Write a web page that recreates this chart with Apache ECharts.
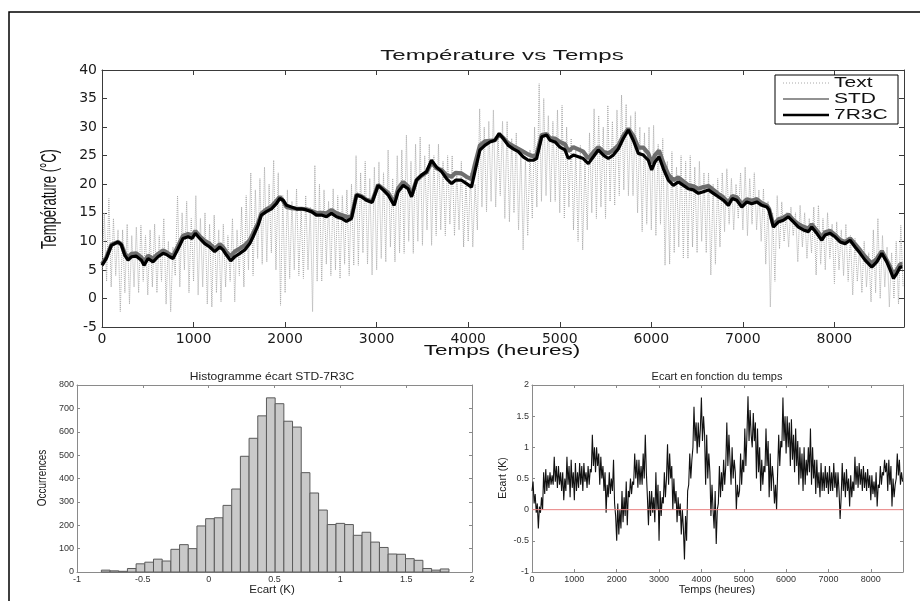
<!DOCTYPE html>
<html><head><meta charset="utf-8">
<script src="https://cdn.jsdelivr.net/npm/echarts/dist/echarts.min.js"></script>
<style>html,body{margin:0;padding:0;background:#fff}#c{width:920px;height:601px}</style>
</head><body><div id="c"></div><script>
// ---------- DATA ----------
// Outdoor temperature "Text", one value every 25 h starting at 0 h
const textStep = 25;
const textValues = [
5,15,3,17.5,2,14,4,12, -2.3,12,1,13,-1,11,2,12.5, 1,12.8,3,11,0.6,12,2,13, 1,11,3,14,-1,10,-2.3,9,
4,18,2,15,5,17,1,14, 3,18,0.6,14,2,15,-1,13, -1.5,14.6,1,12,-0.6,13,2,11, 3,14,-0.6,12,4,16,2,18,
5,22,4,19,7,21,6,23, 6.4,20,8,24.2,5,22,-1.2,18, 1,19,3.5,17,5,19.2,4,16, 3.5,18,5,16,-2.3,23.3,3,20,
3,19,6,17,4,19.2,5,18, 3.5,18,6,19,4,20,5.8,25, 5.8,22,8,24,6,21,4.1,23, 5,23.9,7,22,6.4,26,9,21,
6.4,25,8,26,7.9,28.6,10,24, 7.9,27,10,28.3,9.3,25,12,27, 9.3,25,11,27,12,24,11,25, 13,25,11,22,12,24,9,21,
10,22,9,20,12,33.2,16,30, 15.2,31,17,33,16,29,18,31, 14,31,13.4,28,15,29,12,26, 8.5,24,11,26,14,30,16,37.6,
17,35,18,32,16.9,31,17,33, 15,33.8,14,30,16,28,12,26, 10,26.8,8.5,24,12,29,15,33.2, 14,32,16,30,14,33.8,17,31,
16.3,33,18,35.6,19,34,18,32, 18,32.7,15,30,11.7,29,13,30, 12,30.3,11,27,13,28,5.8,24, 6,25.7,8,23,9,25,7,24,
7,25,9,23,8,24,10,22, 8,22,4.1,20,6,21,9,22, 11.7,22.7,13,21,12,20,14,22, 12,23,11,21,13,22,12,19,
10,19.2,6,17,-1.5,15,3,18, 8.7,16.9,10,15,9,16,11,15, 6.4,16.3,9,15,7,14,8,16, 4.1,16.3,6,14,5,15,7,13,
2.6,13.4,5,12,4,13,3,11, 0.6,10.5,3,9,1,10,2,8, -0.6,12,1,14,0,11,2,9, -1.5,8,0,10,-1,12.8,2
];
// Indoor temperature models (hours, °C)
const tLine = [0,47,102,175,211,248,284,321,375,430,459,503,557,612,667,703,740,776,831,885,940,984,1020,1067,1122,1177,1231,1286,1322,1359,1406,1450,1505,1559,1614,1650,1705,1741,1796,1851,1905,1942,1978,2015,2069,2124,2178,2233,2288,2342,2397,2452,2506,2561,2616,2670,2725,2780,2834,2889,2950,3016,3071,3126,3191,3235,3290,3344,3381,3435,3490,3545,3599,3654,3709,3763,3818,3862,3927,3982,4036,4073,4128,4182,4237,4292,4339,4383,4437,4492,4547,4601,4656,4711,4747,4802,4857,4893,4948,5002,5057,5093,5148,5203,5257,5312,5367,5421,5476,5530,5585,5640,5694,5749,5803,5858,5913,5967,6004,6040,6084,6132,6186,6240,6295,6350,6404,6459,6514,6568,6623,6678,6732,6787,6842,6885,6933,6988,7043,7097,7152,7207,7262,7286,7333,7388,7443,7497,7552,7607,7661,7716,7752,7807,7862,7898,7953,8007,8062,8117,8171,8226,8281,8335,8408,8463,8518,8572,8609,8645,8682,8718,8743];
const v7R3C = [5.8,7.0,9.3,9.9,9.4,7.6,6.7,7.3,7.4,6.7,5.8,7.0,6.4,7.3,7.9,7.7,7.3,7.0,8.7,10.5,10.8,10.5,11.4,10.5,9.6,9.0,8.2,9.0,8.5,7.6,6.6,7.3,7.9,8.5,9.6,10.8,12.8,14.6,15.2,15.7,16.6,17.5,17.2,16.3,16.0,15.7,15.7,15.5,15.2,14.6,14.6,14.3,14.9,14.3,14.0,13.5,14.0,18.1,17.8,17.2,16.8,19.8,19.0,18.1,16.3,18.7,19.8,19.2,17.8,20.7,21.6,22.2,24.2,23.0,22.2,21.0,20.1,20.7,20.7,20.1,19.5,22.2,26.0,26.8,27.4,27.7,28.9,28.0,26.8,26.2,25.7,24.8,24.2,24.2,24.5,28.3,28.6,27.7,27.4,26.5,26.0,24.5,25.1,24.8,24.5,23.6,24.8,26.0,25.1,24.5,25.1,26.2,28.0,29.5,27.7,25.4,25.1,24.2,22.5,23.9,24.8,22.7,20.7,19.8,20.4,19.8,19.2,19.0,18.4,18.7,19.0,18.4,17.8,17.2,16.3,17.5,17.2,16.0,16.9,16.6,16.9,16.3,16.0,15.5,12.5,13.4,13.7,14.3,13.4,12.5,12.0,11.7,12.5,11.4,10.2,11.1,11.4,10.8,9.9,9.6,10.2,9.0,7.9,6.7,5.5,6.4,7.9,6.4,5.0,3.5,4.4,5.5,5.5];
const vSTD = [6.0,7.2,9.4,9.9,9.5,7.9,7.1,7.8,7.9,7.2,6.3,7.5,7.0,7.8,8.4,8.1,7.7,7.4,9.2,11.0,11.3,11.0,11.8,10.9,10.1,9.55,8.7,9.5,9.0,8.1,7.4,8.2,8.75,9.3,10.2,11.4,13.2,14.9,15.6,16.1,17.1,17.8,17.1,16.0,15.8,15.7,15.7,15.6,15.3,14.95,15.0,14.9,15.5,14.9,14.6,14.3,14.3,18.2,17.9,17.3,17.0,19.9,19.2,18.5,16.7,19.3,20.4,19.6,18.1,20.7,21.5,22.1,23.8,22.8,22.5,21.6,21.3,22.0,21.9,21.3,20.9,23.5,26.8,27.5,27.6,27.7,28.7,28.1,27.2,26.7,26.2,25.7,25.2,24.9,25.1,28.6,28.8,28.1,28.0,27.4,27.0,25.8,26.5,26.1,25.7,24.5,25.6,26.5,25.7,25.4,26.0,26.8,28.5,29.7,28.5,26.4,26.4,25.4,23.7,25.1,25.9,23.7,21.7,20.7,21.2,20.5,19.85,19.65,19.2,19.5,19.7,19.0,18.3,17.7,16.75,17.95,17.7,16.5,17.35,17.1,17.4,16.7,16.3,15.7,12.8,13.85,14.15,14.7,13.7,13.0,12.55,12.25,13.0,11.9,10.7,11.6,11.85,11.15,10.25,9.9,10.5,9.5,8.45,7.35,6.1,6.95,8.3,6.7,5.5,4.2,5.0,6.0,6.0];
// Histogram of STD-7R3C deviation
const histBinStart = -0.815;
const histBinWidth = 0.066;
const histCounts = [8,5,3,15,35,42,55,47,97,117,100,197,228,232,285,355,495,572,668,745,720,645,620,425,338,265,203,208,203,157,170,128,105,77,76,57,50,15,8,13];
// Deviation vs time, one value every 25 h
const ecartStep = 25;
const ecartValues = [
0.3,0.45,0.1,0.25, -0.05,0.1,-0.3,0.05, -0.05,0.2,0.0,0.6, 0.25,0.65,0.3,0.55, 0.35,0.6,0.4,0.55,
0.4,0.85,0.45,0.7, 0.35,0.7,0.4,0.6, 0.3,0.6,0.15,0.5, 0.3,0.85,0.4,0.7, 0.2,0.8,0.35,0.6,
0.15,0.75,0.3,0.6, 0.35,0.75,0.4,0.7, 0.3,0.75,0.45,0.6, 0.35,0.7,0.4,0.65, 0.6,1.2,0.7,1.0,
0.6,1.0,0.7,0.9, 0.4,0.85,0.5,0.7, 0.3,0.6,-0.05,0.4, 0.2,0.6,0.25,0.5, 0.3,0.8,0.1,-0.1,
-0.5,0.1,-0.4,0.0, -0.3,0.3,-0.2,0.2, -0.1,0.45,-0.25,0.3, 0.2,0.5,0.25,0.45, 0.4,0.9,0.5,0.8,
0.35,0.8,0.4,0.7, 0.4,0.9,0.5,1.2, 0.6,0.2,-0.25,0.3, -0.1,0.3,-0.05,0.2, -0.2,0.6,0.0,0.4,
-0.5,0.3,-0.1,0.2, 0.1,0.6,0.2,0.5, 1.05,0.4,0.9,0.5, 0.7,0.0,0.5,0.1, 0.3,-0.2,0.2,-0.1,
0.1,-0.4,0.0,-0.3, -0.8,-0.1,-0.5,0.3, 0.4,0.9,0.5,0.8, 1.0,1.65,1.1,1.4, 0.9,1.4,1.0,1.3,
1.8,1.1,1.5,1.2, 0.4,1.2,0.5,0.9, 0.6,-0.1,0.4,0.0, -0.3,0.3,-0.55,0.0, 0.1,0.7,0.2,0.6,
0.3,0.8,0.4,0.7, 1.4,0.7,1.2,0.8, 0.4,1.0,0.5,0.8, 0.6,0.0,0.4,0.2, 0.3,0.9,0.4,0.8,
0.6,1.3,0.7,1.2, 1.82,1.1,1.6,1.2, 1.0,1.55,1.1,1.4, 0.5,1.3,0.6,1.0, 0.3,0.8,0.4,0.7,
0.6,1.3,0.7,1.1, 0.2,0.9,0.3,0.7, 0.5,0.1,0.4,0.0, 0.6,1.2,0.7,1.1, 1.0,1.8,1.1,1.5,
0.9,1.5,1.0,1.4, 0.7,1.45,0.8,1.2, 0.6,1.3,0.7,1.1, 0.4,1.0,0.5,0.9, 0.3,1.0,0.4,0.8,
0.55,1.0,0.6,1.3, 0.4,1.0,0.5,0.8, 0.25,0.8,0.35,0.6, 0.2,0.75,0.3,0.6, 0.3,0.7,0.35,0.6,
0.25,0.7,0.3,0.6, 0.3,0.75,0.35,0.6, 0.2,0.6,0.3,-0.15, 0.2,0.75,0.3,0.6, 0.2,0.65,0.3,0.5,
0.05,0.55,0.2,0.45, 0.3,0.85,0.4,0.7, 0.35,0.75,0.4,0.65, 0.3,0.7,0.35,0.6, 0.3,0.65,0.35,0.55,
0.15,0.55,0.25,0.45, 0.2,0.6,0.05,0.4, 0.35,0.7,0.4,0.6, 0.55,0.8,0.6,0.75, 0.3,0.8,0.4,0.7,
0.05,0.5,0.2,0.4, 0.5,0.9,0.55,0.8, 0.4,0.6,0.45
];
// Zero reference line of the deviation plot
const zeroLine = [[0, 0], [8760, 0]];
// Axis ranges / ticks
const timeMax = 8760, timeTick = 1000;
const tempMin = -5, tempMax = 40, tempTick = 5;
const histXMin = -1, histXMax = 2, histXTick = 0.5;
const histYMin = 0, histYMax = 800, histYTick = 100;
const ecartMin = -1, ecartMax = 2, ecartTick = 0.5;

// ---------- BUILD ----------
const textData = textValues.map((v, i) => [i * textStep, v]);
const stdData = tLine.map((t, i) => [t, vSTD[i]]);
const r3cData = tLine.map((t, i) => [t, v7R3C[i]]);
const histData = histCounts.map((c, i) => [histBinStart + (i + 0.5) * histBinWidth, c]);
const ecartData = ecartValues.map((v, i) => [i * ecartStep, v]);

const chart = echarts.init(document.getElementById('c'), null, {renderer: 'canvas'});

function axis(grid, pos, min, max, interval, opts) {
  const big = grid === 0;
  const col = big ? '#3a3a3a' : '#8a8a8a';
  const a = {
    type: 'value', gridIndex: grid, position: pos, min: min, max: max, interval: interval,
    splitLine: {show: false},
    axisLine: {show: true, onZero: false, lineStyle: {color: col, width: 1}},
    axisTick: {show: true, inside: true, length: big ? 5 : 3, lineStyle: {color: col}},
    axisLabel: {show: false}
  };
  if (opts && opts.labels) {
    a.axisLabel = {
      show: true, showMaxLabel: opts.showMax !== false, showMinLabel: true,
      color: big ? '#1a1a1a' : '#333',
      fontFamily: big ? 'DejaVu Sans' : 'Liberation Sans',
      fontSize: big ? 14 : 9,
      margin: big ? 5 : 3,
      formatter: function (v) { return String(Math.round(v * 100) / 100); }
    };
  }
  return a;
}

const grids = [
  {left: 102, top: 70, width: 802, height: 257},
  {left: 77, top: 385, width: 395, height: 187},
  {left: 532, top: 385, width: 371, height: 187}
].map(g => Object.assign(g, {containLabel: false, outerBoundsMode: 'none'}));

const xAxes = [
  axis(0, 'bottom', 0, timeMax, timeTick, {labels: true, showMax: false}),
  axis(0, 'top', 0, timeMax, timeTick),
  axis(1, 'bottom', histXMin, histXMax, histXTick, {labels: true}),
  axis(1, 'top', histXMin, histXMax, histXTick),
  axis(2, 'bottom', 0, timeMax, timeTick, {labels: true, showMax: false}),
  axis(2, 'top', 0, timeMax, timeTick)
];
const yAxes = [
  axis(0, 'left', tempMin, tempMax, tempTick, {labels: true}),
  axis(0, 'right', tempMin, tempMax, tempTick),
  axis(1, 'left', histYMin, histYMax, histYTick, {labels: true}),
  axis(1, 'right', histYMin, histYMax, histYTick),
  axis(2, 'left', ecartMin, ecartMax, ecartTick, {labels: true}),
  axis(2, 'right', ecartMin, ecartMax, ecartTick)
];

function txt(text, x, y, size, o) {
  o = o || {};
  return {
    type: 'text', x: x, y: y, rotation: o.rot || 0, scaleX: o.sx || 1, scaleY: o.sy || 1, z: 50,
    style: {text: text, fontSize: size, fontFamily: 'Liberation Sans, Arial, sans-serif',
      fill: o.fill || '#111', align: o.align || 'center', verticalAlign: 'middle'}
  };
}

const graphics = [
  {type: 'polyline', shape: {points: [[9, 601], [9, 12], [920, 12]]}, style: {stroke: '#000', lineWidth: 1.5, fill: null}, z: 40},
  txt('Température vs Temps', 502, 56, 14, {sx: 1.72, fill: '#1a1a1a'}),
  txt('Temps (heures)', 502, 351, 15, {sx: 1.5}),
  txt('Température (°C)', 50, 199, 13, {rot: Math.PI / 2, sy: 1.7}),
  // legend
  {type: 'rect', shape: {x: 775, y: 75, width: 123, height: 49}, style: {fill: '#fff', stroke: '#000', lineWidth: 1}, z: 45},
  {type: 'line', shape: {x1: 783, y1: 83, x2: 829, y2: 83}, style: {stroke: '#a8a8a8', lineWidth: 1, lineDash: [1, 2]}, z: 46},
  {type: 'line', shape: {x1: 783, y1: 99, x2: 829, y2: 99}, style: {stroke: '#6e6e6e', lineWidth: 1.5}, z: 46},
  {type: 'line', shape: {x1: 783, y1: 115, x2: 829, y2: 115}, style: {stroke: '#000', lineWidth: 2.5}, z: 46},
  txt('Text', 834, 83, 14, {sx: 1.5, align: 'left'}),
  txt('STD', 834, 99, 14, {sx: 1.5, align: 'left'}),
  txt('7R3C', 834, 115, 14, {sx: 1.5, align: 'left'}),
  // lower plots
  txt('Histogramme écart STD-7R3C', 272, 377, 11.5, {sx: 1.05, fill: '#222'}),
  txt('Occurrences', 43, 478, 10, {rot: Math.PI / 2, sy: 1.2, fill: '#222'}),
  txt('Ecart (K)', 272, 590, 10.5, {sx: 1.1, fill: '#222'}),
  txt('Ecart en fonction du temps', 717, 377, 11, {sx: 1.0, fill: '#222'}),
  txt('Ecart (K)', 503, 478, 10.5, {rot: Math.PI / 2, sy: 1.1, fill: '#222'}),
  txt('Temps (heures)', 717, 590, 10.5, {sx: 1.05, fill: '#222'})
];

chart.setOption({
  animation: false,
  backgroundColor: '#fff',
  grid: grids,
  xAxis: xAxes,
  yAxis: yAxes,
  graphic: {elements: graphics},
  series: [
    {type: 'line', name: 'Text', xAxisIndex: 0, yAxisIndex: 0, data: textData, symbol: 'none', z: 1,
      lineStyle: {color: '#ababab', width: 1, type: 'dotted'}},
    {type: 'line', name: 'STD', xAxisIndex: 0, yAxisIndex: 0, data: stdData, symbol: 'none', z: 2,
      lineStyle: {color: '#6e6e6e', width: 4.2}},
    {type: 'line', name: '7R3C', xAxisIndex: 0, yAxisIndex: 0, data: r3cData, symbol: 'none', z: 3,
      lineStyle: {color: '#000', width: 3.2}},
    {type: 'custom', name: 'Histogramme', xAxisIndex: 2, yAxisIndex: 2, data: histData,
      encode: {x: 0, y: 1},
      renderItem: function (params, api) {
        const c = api.value(0), h = api.value(1);
        const p0 = api.coord([c - histBinWidth / 2, h]);
        const p1 = api.coord([c + histBinWidth / 2, 0]);
        return {type: 'rect', shape: {x: p0[0], y: p0[1], width: p1[0] - p0[0], height: p1[1] - p0[1]},
          style: {fill: '#c9c9c9', stroke: '#5a5a5a', lineWidth: 1}};
      }},
    {type: 'line', name: 'Ecart', xAxisIndex: 4, yAxisIndex: 4, data: ecartData, symbol: 'none', z: 3,
      lineStyle: {color: '#111', width: 1.1}},
    {type: 'line', name: 'Zéro', xAxisIndex: 4, yAxisIndex: 4, data: zeroLine, symbol: 'none', z: 4,
      silent: true, lineStyle: {color: '#e88080', width: 1}}
  ]
});
</script></body></html>
